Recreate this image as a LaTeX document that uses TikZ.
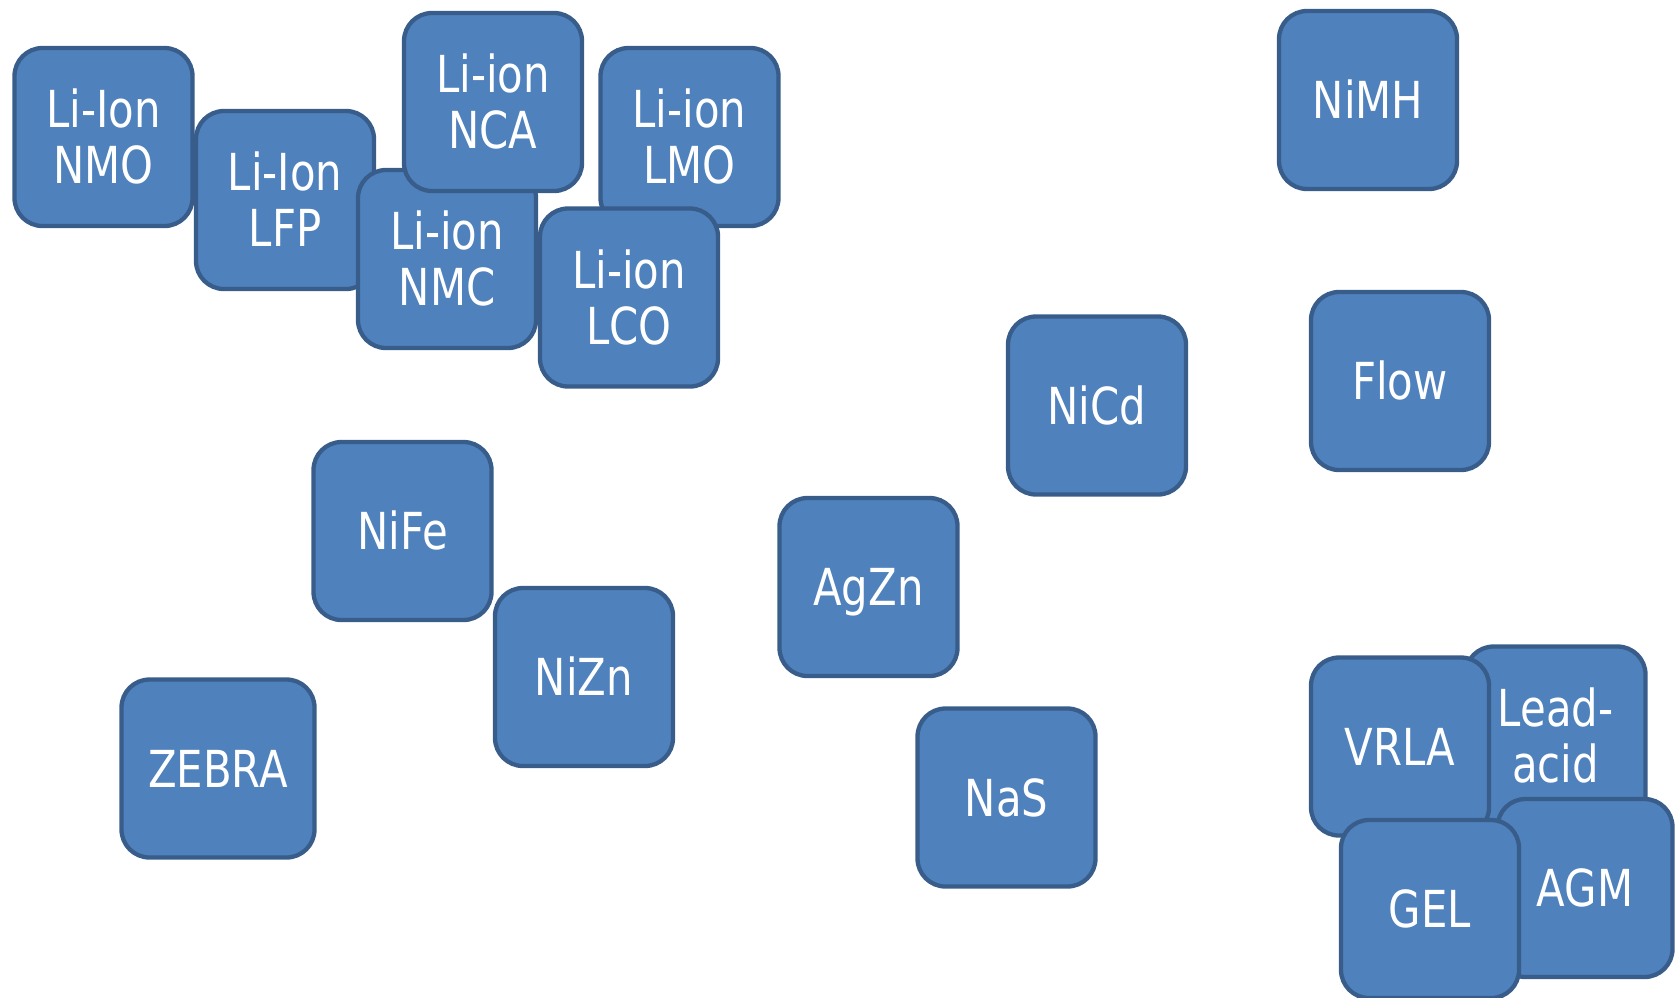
\documentclass[tikz,border=0pt]{standalone}
\usepackage{fontspec}
\setmainfont{DejaVu Sans}[FakeStretch=0.82]
\definecolor{boxfill}{HTML}{4F81BD}
\definecolor{boxline}{HTML}{385D8A}
\tikzset{
  bat/.style={draw=boxline, fill=boxfill, line width=4.3pt, rounded corners=28pt,
    minimum width=#1, minimum height=178pt, inner sep=0pt, text=white, align=center,
    font=\fontsize{51pt}{56pt}\selectfont, text height=37pt, text depth=0pt},
  bat/.default=178pt,
  bat2/.style={bat=#1, text height=93pt},
  bat2/.default=178pt
}
\begin{document}
\begin{tikzpicture}[x=1pt,y=-1pt]
\useasboundingbox (0,0) rectangle (1677,997);
\node[bat2] (nmo) at (103.5,137) {Li-Ion\\NMO};
\node[bat2] (lfp) at (285,200) {Li-Ion\\LFP};
\node[bat2] (nmc) at (447,259) {Li-ion\\NMC};
\node[bat2] (nca) at (493,102) {Li-ion\\NCA};
\node[bat2] (lmo) at (689.5,137) {Li-ion\\LMO};
\node[bat2] (lco) at (629,297.5) {Li-ion\\LCO};
\node[bat] (nimh) at (1368,100) {NiMH};
\node[bat] (flow) at (1400,381) {Flow};
\node[bat] (nicd) at (1097,405.5) {NiCd};
\node[bat] (nife) at (402.5,531) {NiFe};
\node[bat] (nizn) at (584,677) {NiZn};
\node[bat] (agzn) at (868.5,587) {AgZn};
\node[bat=193pt] (zebra) at (218,768.5) {ZEBRA};
\node[bat] (nas) at (1006.5,797.5) {NaS};
\node[bat2=180pt] (lead) at (1555.5,735.5) {Lead-\\acid};
\node[bat=175pt] (agm) at (1585,888) {AGM};
\node[bat] (vrla) at (1400,746.5) {VRLA};
\node[bat] (gel) at (1430,909) {GEL};
\end{tikzpicture}
\end{document}
